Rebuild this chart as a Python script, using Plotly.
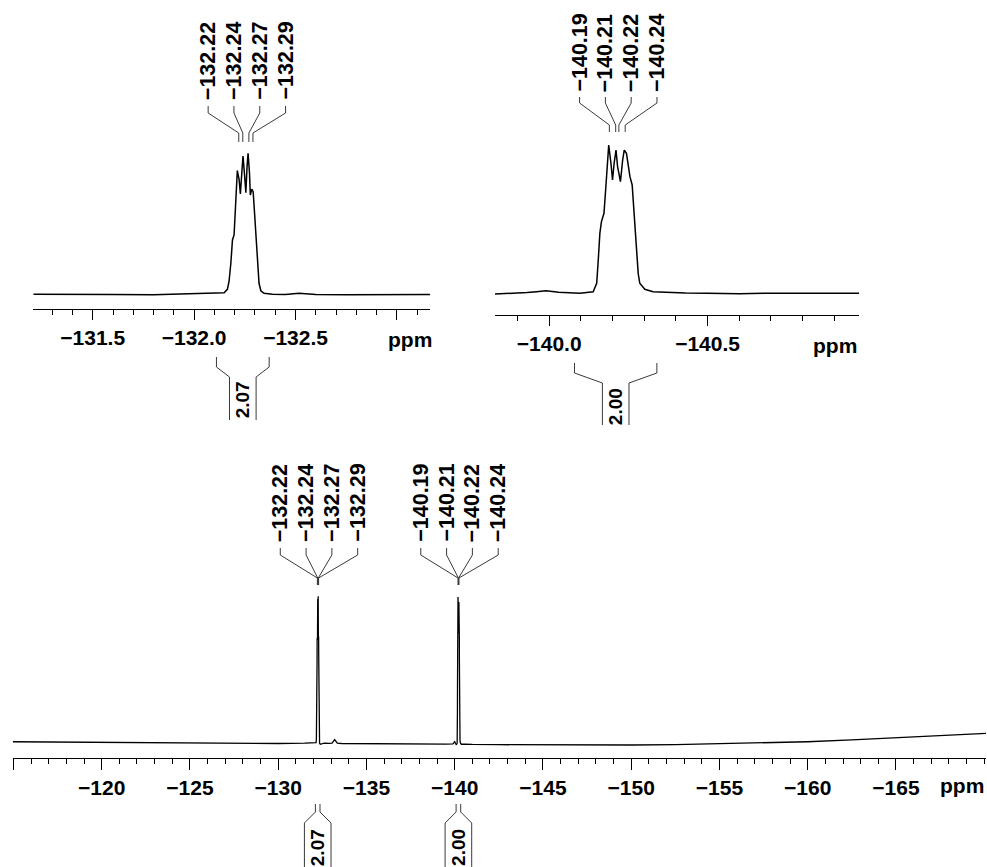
import numpy as np
import plotly.graph_objects as go

W, H = 987, 867

# ---------------- data ----------------
# multiplet near -132.25 ppm (relative intensity, tallest line = 100)
M1_PPM = [-132.148, -132.164, -132.172, -132.181, -132.189, -132.197, -132.202, -132.207,
          -132.213, -132.222, -132.228, -132.235, -132.241, -132.248, -132.255, -132.261,
          -132.266, -132.273, -132.277, -132.284, -132.291, -132.297, -132.304, -132.312,
          -132.320, -132.329, -132.345, -132.386]
M1_INT = [1.6, 4.0, 9.4, 22.5, 39.0, 42.6, 55.5, 72.1,
          88.2, 81.6, 71.6, 86.3, 98.6, 86.3, 72.6, 91.0,
          100.5, 86.3, 70.9, 75.0, 73.3, 60.3, 43.8, 22.5,
          8.3, 3.0, 1.2, 0.5]
# baseline of the -132 ppm expansion
BASE1_PPM = [-131.207, -131.4, -131.6, -131.8, -132.0, -132.08, -132.12,
             -132.45, -132.517, -132.6, -132.75, -132.9, -133.05, -133.163]
BASE1_INT = [0.5, 0.2, 0.4, 0.2, 1.0, 1.4, 1.3,
             0.3, 1.2, 0.4, 0.1, 0.3, 0.2, 0.4]

# multiplet near -140.21 ppm
M2_PPM = [-140.097, -140.139, -140.150, -140.155, -140.160, -140.165, -140.173, -140.179,
          -140.184, -140.188, -140.195, -140.200, -140.205, -140.211, -140.216, -140.225,
          -140.232, -140.237, -140.244, -140.255, -140.262, -140.267, -140.274, -140.281,
          -140.286, -140.302, -140.328, -140.381]
M2_INT = [0.1, 1.2, 6.9, 22.6, 40.5, 48.4, 54.0, 71.9,
          89.9, 100.0, 87.7, 76.4, 87.7, 96.6, 85.4, 75.3,
          89.9, 96.6, 94.4, 78.7, 73.1, 56.2, 33.8, 13.6,
          6.9, 2.8, 1.2, 0.5]
BASE2_PPM = [-139.829, -139.88, -139.93, -139.96, -139.99, -140.03, -140.07,
             -140.43, -140.5, -140.6, -140.7, -140.8, -140.9, -140.979]
BASE2_INT = [-0.3, -0.1, 0.6, 1.2, 1.8, 0.9, 0.2,
             0.3, 0.2, -0.1, 0.2, -0.1, 0.1, 0.2]

# full-width spectrum baseline (outside the two multiplets)
WIDE_PPM = [-114.96, -117.5, -120, -122.5, -125, -127.5, -130, -131.5, -132.0,
            -132.6, -132.9, -133.05, -133.2, -133.35, -133.6, -135, -137.5, -139.5,
            -139.9, -140.0, -140.05, -140.6, -141, -142.5, -145, -147.5, -150,
            -152.5, -155, -157.5, -160, -162.5, -165, -167.5, -170.1]
WIDE_INT = [2.2, 2.0, 1.7, 1.4, 1.1, 1.0, 1.0, 1.2, 1.2,
            1.2, 1.1, 1.2, 3.6, 1.2, 1.0, 0.8, 0.5, 0.6,
            0.8, 2.2, 1.0, 0.6, 0.4, 0.2, 0.0, 0.0, 0.0,
            0.2, 0.7, 1.4, 2.2, 3.4, 4.9, 6.4, 7.9]

PEAKS_A = [-132.22, -132.24, -132.27, -132.29]
PEAKS_B = [-140.19, -140.21, -140.22, -140.24]
INTEG_LO = [-132.11, -140.08]
INTEG_HI = [-132.37, -140.34]
INTEG_VAL = ["2.07", "2.00"]

TICKS_A = [-131.5, -132.0, -132.5, -133.0]
TICKS_B = [-140.0, -140.5]
TICKS_C = [-115, -120, -125, -130, -135, -140, -145, -150, -155, -160, -165]


def lab(v, nd):
    return "\u2212" + f"{abs(v):.{nd}f}"


# ---------------- layout geometry (pixels) ----------------
PANELS = {
    "A": dict(x0=33.3, x1=430.0, r0=-131.207, r1=-133.163, axis_py=309, base_py=295.0,
              peak_py=154.0, top_py=136, ppm_xy=(410, 339),
              lbl=(101, 106, 113, 133, 142), integ=(357, 367, 377, 420, 380)),
    "B": dict(x0=495.0, x1=859.3, r0=-139.829, r1=-140.979, axis_py=315, base_py=293.5,
              peak_py=145.0, top_py=126, ppm_xy=(835, 345),
              lbl=(93, 97, 103, 125, 132), integ=(363, 373, 383, 425, 387)),
    "C": dict(x0=12.7, x1=986.0, r0=-114.96, r1=-170.1, axis_py=758, base_py=745.0,
              peak_py=597.0, top_py=570, ppm_xy=(962, 785),
              lbl=(543, 548, 555, 578, 585), integ=(804, 812, 823, 885, 828)),
}
LABEL_GAP = 25.8
INT_HALF = 13.3
FONT = "Liberation Sans, Arial, Helvetica, sans-serif"


def px2ppm(p, px):
    return p["r0"] - (px - p["x0"]) * (p["r0"] - p["r1"]) / (p["x1"] - p["x0"])


def ppm2px(p, v):
    return p["x0"] + (p["r0"] - v) * (p["x1"] - p["x0"]) / (p["r0"] - p["r1"])


def yp(py):
    return 1 - py / H


fig = go.Figure()

# traces
order1 = np.argsort(-np.array(BASE1_PPM + M1_PPM))
x1 = np.array(BASE1_PPM + M1_PPM)[order1]
y1 = np.array(BASE1_INT + M1_INT)[order1]
order2 = np.argsort(-np.array(BASE2_PPM + M2_PPM))
x2 = np.array(BASE2_PPM + M2_PPM)[order2]
y2 = np.array(BASE2_INT + M2_INT)[order2]
allx = np.array(WIDE_PPM + M1_PPM + M2_PPM)
ally = np.array(WIDE_INT + M1_INT + M2_INT)
order3 = np.argsort(-allx)
x3, y3 = allx[order3], ally[order3]

line = dict(color="black", width=1.5)
fig.add_trace(go.Scatter(x=x1, y=y1, mode="lines", line=line, xaxis="x", yaxis="y", showlegend=False))
fig.add_trace(go.Scatter(x=x2, y=y2, mode="lines", line=line, xaxis="x2", yaxis="y2", showlegend=False))
fig.add_trace(go.Scatter(x=x3, y=y3, mode="lines", line=dict(color="black", width=1.3),
                         xaxis="x3", yaxis="y3", showlegend=False))

tickfont = dict(family=FONT, size=21, color="black", weight="bold")
layout = dict(width=W, height=H, margin=dict(l=0, r=0, t=0, b=0),
              paper_bgcolor="white", plot_bgcolor="white", showlegend=False)

axis_specs = [("A", "", TICKS_A, [lab(v, 1) for v in TICKS_A[:-1]] + [""], 0.1, 10, 5),
              ("B", "2", TICKS_B, [lab(v, 1) for v in TICKS_B], 0.1, 10, 5),
              ("C", "3", TICKS_C, [""] + [lab(v, 0) for v in TICKS_C[1:]], 1, 11, 5)]
for key, suf, tv, tt, mdt, tl, mtl in axis_specs:
    p = PANELS[key]
    scale = (p["base_py"] - p["peak_py"]) / 100.0
    ymin = -(p["axis_py"] - p["base_py"]) / scale
    ymax = (p["base_py"] - p["top_py"]) / scale
    layout["xaxis" + suf] = dict(
        domain=[p["x0"] / W, p["x1"] / W], range=[p["r0"], p["r1"]],
        anchor="y" + suf, showline=True, linecolor="black", linewidth=1.3,
        ticks="outside", ticklen=tl, tickwidth=1.3, tickcolor="black",
        tickmode="array", tickvals=tv, ticktext=tt, tickfont=tickfont,
        minor=dict(dtick=mdt, tick0=0, ticks="outside", ticklen=mtl, tickwidth=1.2,
                   tickcolor="black", showgrid=False),
        showgrid=False, zeroline=False, fixedrange=True)
    layout["yaxis" + suf] = dict(domain=[yp(p["axis_py"]), yp(p["top_py"])],
                                 range=[ymin, ymax], visible=False, fixedrange=True)

shapes, annotations = [], []
lblfont = dict(family=FONT, size=21.5, color="black", weight="bold")
intfont = dict(family=FONT, size=19, color="black", weight="bold")
conn = dict(color="#3a3a3a", width=1)

groups = [("A", "x", PEAKS_A), ("B", "x2", PEAKS_B), ("C", "x3", PEAKS_A), ("C", "x3", PEAKS_B)]
for key, xref, peaks in groups:
    p = PANELS[key]
    tb, ya, yb, yc, yd = p["lbl"]
    center = np.mean([ppm2px(p, v) for v in peaks]) + 1.0
    for i, v in enumerate(peaks):
        lx = px2ppm(p, center + (i - 1.5) * LABEL_GAP)
        path = f"M {lx},{yp(ya)} L {lx},{yp(yb)} L {v},{yp(yc)} L {v},{yp(yd)}"
        shapes.append(dict(type="path", path=path, xref=xref, yref="paper", line=conn))
        annotations.append(dict(text=lab(v, 2), x=lx, xref=xref, y=yp(tb), yref="paper",
                                xanchor="center", yanchor="bottom", textangle=-90,
                                showarrow=False, font=lblfont, borderpad=0))

integ_groups = [("A", "x", [0]), ("B", "x2", [1]), ("C", "x3", [0, 1])]
for key, xref, idxs in integ_groups:
    p = PANELS[key]
    y0, y1_, y2_, y3_, tt = p["integ"]
    for k in idxs:
        lo, hi = INTEG_LO[k], INTEG_HI[k]
        cpx = (ppm2px(p, lo) + ppm2px(p, hi)) / 2
        tl_ = px2ppm(p, cpx - INT_HALF)
        tr_ = px2ppm(p, cpx + INT_HALF)
        for a, b in ((lo, tl_), (hi, tr_)):
            path = f"M {a},{yp(y0)} L {a},{yp(y1_)} L {b},{yp(y2_)} L {b},{yp(y3_)}"
            shapes.append(dict(type="path", path=path, xref=xref, yref="paper", line=conn))
        annotations.append(dict(text=INTEG_VAL[k], x=px2ppm(p, cpx), xref=xref, y=yp(tt),
                                yref="paper", xanchor="center", yanchor="top", textangle=-90,
                                showarrow=False, font=intfont, borderpad=0))

for key in ("A", "B", "C"):
    px_, py_ = PANELS[key]["ppm_xy"]
    annotations.append(dict(text="ppm", x=px_ / W, y=yp(py_), xref="paper", yref="paper",
                            xanchor="center", yanchor="middle", showarrow=False,
                            font=dict(family=FONT, size=21, color="black", weight="bold")))

layout["shapes"] = shapes
layout["annotations"] = annotations
fig.update_layout(**layout)
fig.write_html("out.html", config={"displayModeBar": False},
               post_script="document.body.style.margin='0';document.body.style.overflow='hidden';")
